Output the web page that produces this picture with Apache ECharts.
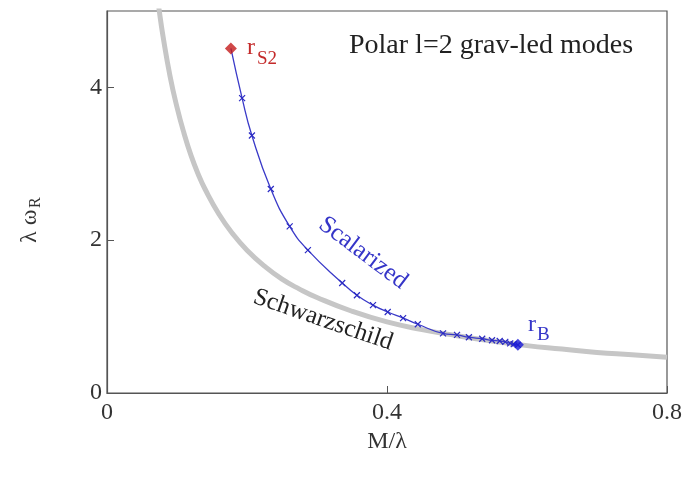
<!DOCTYPE html>
<html>
<head>
<meta charset="utf-8">
<script src="https://cdn.jsdelivr.net/npm/echarts@6/dist/echarts.min.js"></script>
<style>html,body{margin:0;padding:0;background:#fff}#c{width:692px;height:477px}</style>
</head>
<body>
<div id="c"></div>
<script>
// Schwarzschild curve (M/lambda, lambda*omega_R)
var schwX = [0.070, 0.075, 0.080, 0.090, 0.100, 0.110, 0.120, 0.130, 0.140, 0.160, 0.180, 0.200, 0.225, 0.250, 0.275, 0.300, 0.350, 0.400, 0.450, 0.500, 0.550, 0.600, 0.650, 0.700, 0.750, 0.800];
var schwY = [5.34, 4.98, 4.67, 4.15, 3.74, 3.40, 3.11, 2.87, 2.67, 2.34, 2.08, 1.87, 1.66, 1.49, 1.36, 1.25, 1.07, 0.93, 0.83, 0.75, 0.68, 0.62, 0.575, 0.53, 0.50, 0.467];
// Scalarized branch, from r_S2 to r_B
var scalX = [0.177, 0.193, 0.207, 0.234, 0.261, 0.287, 0.336, 0.357, 0.380, 0.401, 0.423, 0.444, 0.480, 0.500, 0.517, 0.536, 0.550, 0.561, 0.569, 0.576, 0.581, 0.587];
var scalY = [4.51, 3.86, 3.37, 2.67, 2.18, 1.87, 1.44, 1.28, 1.15, 1.06, 0.98, 0.90, 0.78, 0.76, 0.73, 0.71, 0.69, 0.68, 0.67, 0.65, 0.64, 0.63];
var xTicks = [0, 0.4, 0.8];
var yTicks = [0, 2, 4];

var serif = '"Liberation Serif", "DejaVu Serif", serif';
var schw = schwX.map(function (x, i) { return [x, schwY[i]]; });
var scal = scalX.map(function (x, i) {
  var p = { value: [x, scalY[i]] };
  if (i === 0) p.symbol = 'none';
  return p;
});
var last = scalX.length - 1;

var chart = echarts.init(document.getElementById('c'));
chart.setOption({
  animation: false,
  backgroundColor: '#fff',
  grid: { left: 107, right: 25, top: 11, bottom: 84, show: true, borderColor: '#555', borderWidth: 1.2, backgroundColor: 'transparent' },
  xAxis: {
    type: 'value', min: xTicks[0], max: xTicks[xTicks.length - 1], interval: 0.4,
    name: 'M/λ', nameLocation: 'middle', nameGap: 35,
    nameTextStyle: { fontFamily: serif, fontSize: 24, color: '#333' },
    axisLine: { lineStyle: { color: '#555', width: 1.2 } },
    axisTick: { inside: true, length: 7, lineStyle: { color: '#555' } },
    axisLabel: { fontFamily: serif, fontSize: 24, color: '#333', margin: 8,
      formatter: function (v) { return xTicks.indexOf(+v.toFixed(2)) >= 0 ? String(+v.toFixed(2)) : ''; } },
    splitLine: { show: false }
  },
  yAxis: {
    type: 'value', min: 0, max: 5, interval: 2,
    axisLine: { lineStyle: { color: '#555', width: 1.2 } },
    axisTick: { inside: true, length: 7, lineStyle: { color: '#555' } },
    axisLabel: { fontFamily: serif, fontSize: 24, color: '#333', margin: 5, showMaxLabel: false,
      formatter: function (v) { return yTicks.indexOf(v) >= 0 ? String(v) : ''; } },
    splitLine: { show: false }
  },
  series: [
    {
      type: 'line', data: schw, showSymbol: false, smooth: true, clip: true,
      lineStyle: { color: '#c6c6c6', width: 5 }, z: 1
    },
    {
      type: 'line', data: scal, smooth: true, clip: true, showAllSymbol: true,
      symbol: 'path://M0,0L10,10M10,0L0,10', symbolSize: 6,
      itemStyle: { color: 'rgba(0,0,0,0)', borderColor: '#2b2bc4', borderWidth: 1.2 },
      lineStyle: { color: '#3a3ac8', width: 1.3 }, z: 3
    },
    {
      type: 'scatter', symbol: 'diamond', symbolSize: 12, z: 4,
      data: [
        { value: [scalX[0], scalY[0]], itemStyle: { color: '#c41a1a' } },
        { value: [scalX[last], scalY[last]], itemStyle: { color: '#1a1ad8' } }
      ]
    }
  ],
  graphic: [
    { type: 'text', left: 349, top: 32, style: { text: 'Polar l=2 grav-led modes', font: '28px ' + serif, fill: '#222' } },
    { type: 'text', left: 247, top: 36, style: { text: 'r', font: '24px ' + serif, fill: '#c42a2a' } },
    { type: 'text', left: 257, top: 50, style: { text: 'S2', font: '19px ' + serif, fill: '#c42a2a' } },
    { type: 'text', left: 528, top: 313, style: { text: 'r', font: '24px ' + serif, fill: '#3535c8' } },
    { type: 'text', left: 537, top: 326, style: { text: 'B', font: '19px ' + serif, fill: '#3535c8' } },
    { type: 'text', x: 363, y: 253, rotation: -37 * Math.PI / 180,
      style: { text: 'Scalarized', font: '25px ' + serif, fill: '#3535c8', align: 'center', verticalAlign: 'middle' } },
    { type: 'text', x: 323, y: 320, rotation: -19 * Math.PI / 180,
      style: { text: 'Schwarzschild', font: '25px ' + serif, fill: '#222', align: 'center', verticalAlign: 'middle' } },
    { type: 'group', x: 30, y: 215, rotation: Math.PI / 2, children: [
      { type: 'text', x: -28, y: 0, style: { text: 'λ ω', font: '24px ' + serif, fill: '#333', verticalAlign: 'middle' } },
      { type: 'text', x: 7, y: 6, style: { text: 'R', font: '16px ' + serif, fill: '#333', verticalAlign: 'middle' } }
    ] }
  ]
});
</script>
</body>
</html>
